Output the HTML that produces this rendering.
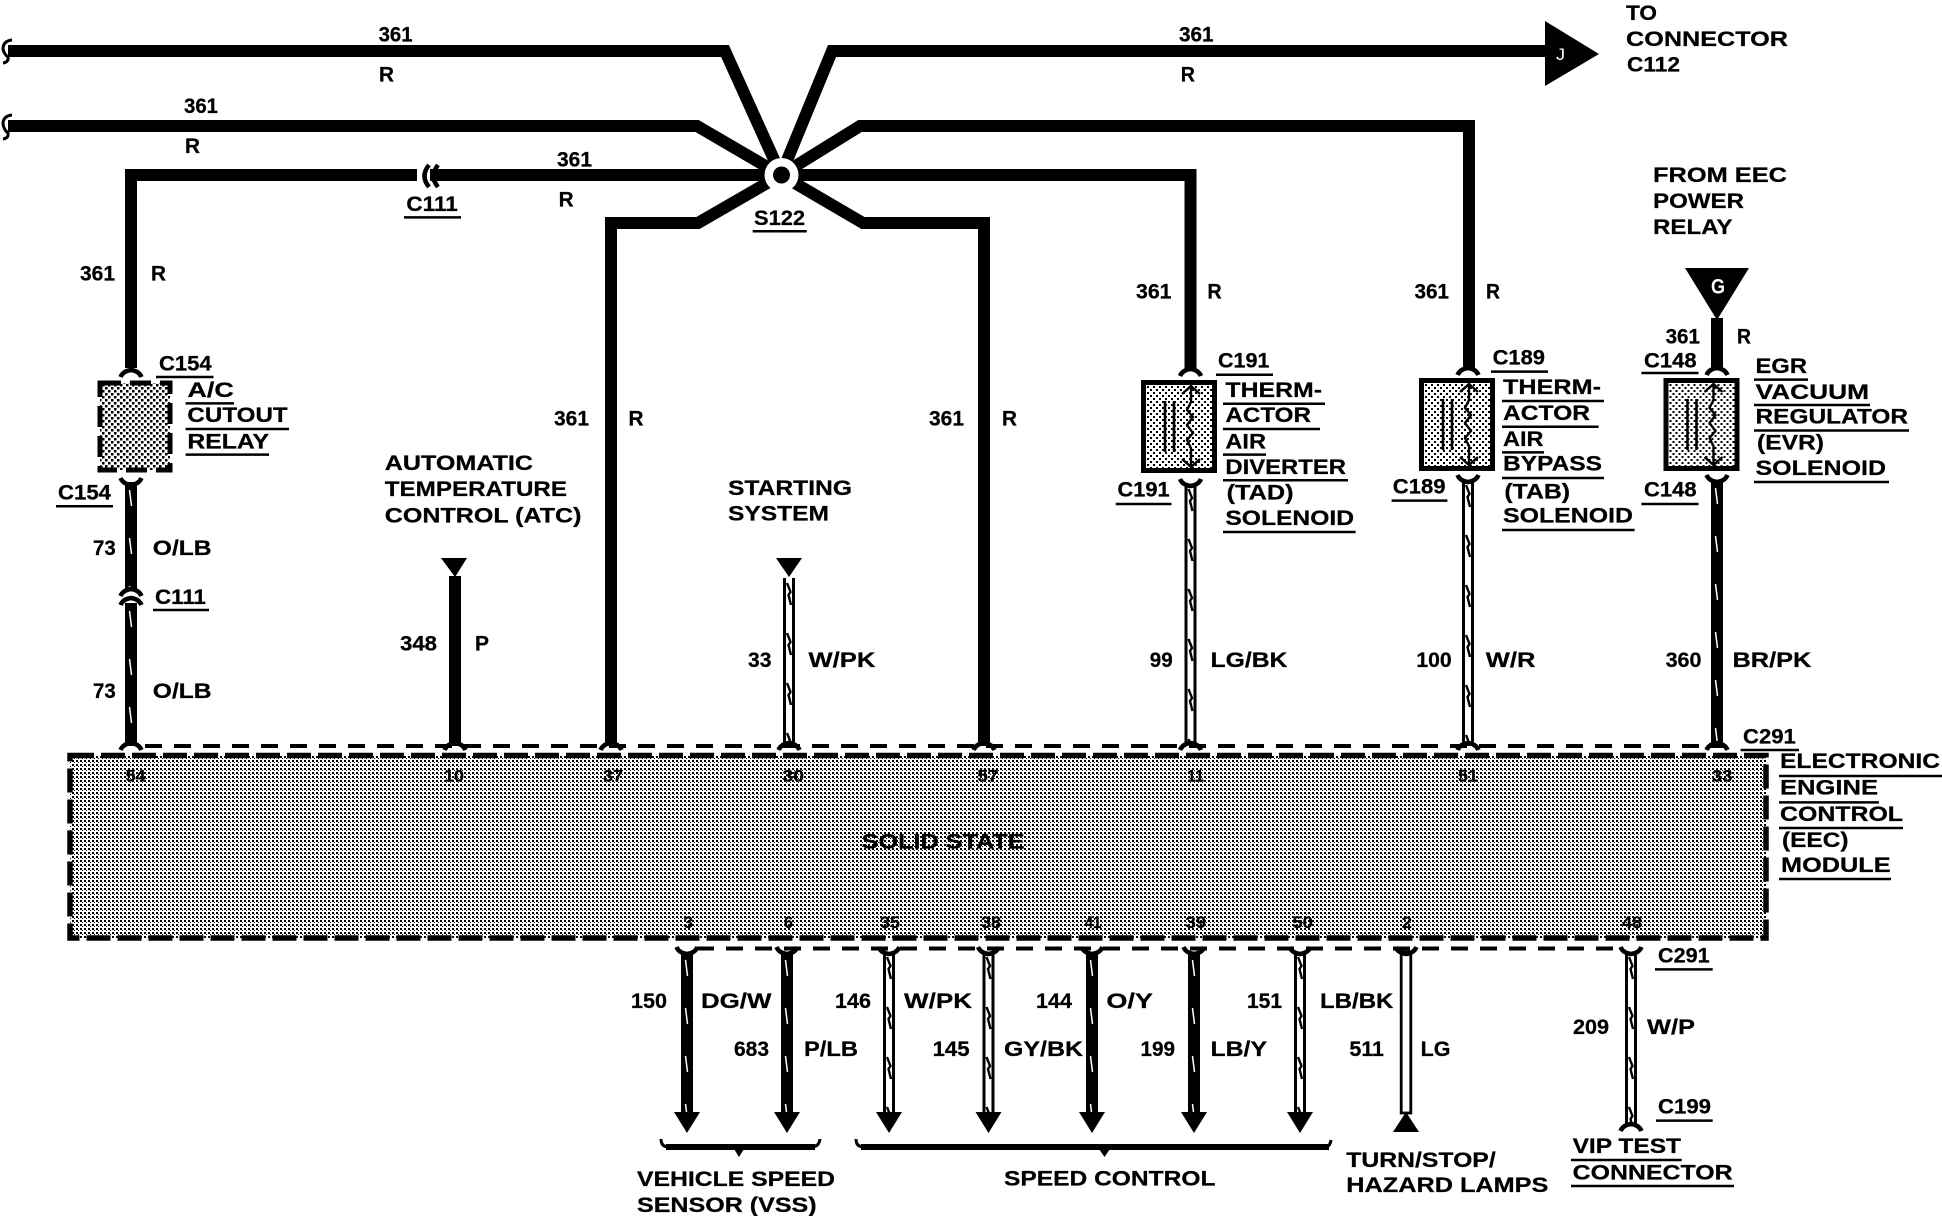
<!DOCTYPE html>
<html><head><meta charset="utf-8"><style>
html,body{margin:0;padding:0;background:#fff}
svg{display:block}
text{font-family:"Liberation Sans",sans-serif;font-weight:bold;font-size:21px;fill:#000;stroke:#000;stroke-width:.25px}
.p{font-size:17px;fill:#000}
</style></head><body>
<svg xmlns="http://www.w3.org/2000/svg" width="1942" height="1216" viewBox="0 0 1942 1216">
<defs>
<pattern id="st" patternUnits="userSpaceOnUse" width="4" height="4"><rect width="4" height="4" fill="#fff"/><rect width="2" height="2" fill="#000" shape-rendering="crispEdges"/><rect x="2" y="2" width="1" height="1" fill="#000" shape-rendering="crispEdges"/></pattern>
<pattern id="st2" patternUnits="userSpaceOnUse" width="6" height="6"><rect width="6" height="6" fill="#fff"/><rect width="2" height="2" fill="#000"/><rect x="3" y="3" width="2" height="2" fill="#000"/></pattern>
<pattern id="st3" patternUnits="userSpaceOnUse" width="6" height="6"><rect width="6" height="6" fill="#fff"/><rect width="2.5" height="2.5" fill="#000"/><rect x="3" y="3" width="2.5" height="2.5" fill="#000"/></pattern>
<pattern id="pw" patternUnits="userSpaceOnUse" width="12" height="50"><rect width="12" height="50" fill="#fff"/><rect width="3" height="50" fill="#000"/><rect x="9" width="3" height="50" fill="#000"/><path d="M4 5L7.5 14L5.5 17L8 27" stroke="#000" stroke-width="2.4" fill="none"/></pattern>
<pattern id="pd" patternUnits="userSpaceOnUse" width="12" height="48"><rect width="12" height="48" fill="#000"/><path d="M4.5 8L6.5 24" stroke="#fff" stroke-width="1.5" fill="none"/></pattern>
<path id="cap" d="M-10.5 0Q-8 -6 0 -7Q8 -6 10.5 0" fill="none" stroke="#000" stroke-width="4.5"/>
<path id="capf" d="M-10.5 0Q-8 6 0 7Q8 6 10.5 0" fill="none" stroke="#000" stroke-width="4.5"/>
<g id="sol">
<rect x="2.5" y="2.5" width="71" height="88" fill="url(#st2)" stroke="#000" stroke-width="5"/>
<path d="M24 21V72M33 21V72" stroke="#000" stroke-width="2.6" fill="none"/>
<path d="M50 6V22L46 30L52 37L46 45L52 53L46 60L50 68V87M41 14L50 6L59 14M41 79L50 87L59 79" stroke="#000" stroke-width="2.4" fill="none"/>
</g>
</defs>
<rect width="1942" height="1216" fill="#fff"/>

<!-- harness -->
<g fill="none" stroke="#000" stroke-width="12" stroke-linejoin="miter">
<path d="M8 51H725L781 175"/>
<path d="M8 126H697L781 175"/>
<path d="M131 368V175H781"/>
<path d="M611 746V223H698L781 175"/>
<path d="M781 175L832 51H1550"/>
<path d="M781 175L860 126H1469V370"/>
<path d="M781 175H1190.5V370"/>
<path d="M781 175L863 223H984V746"/>
<path d="M455 576V746"/>
<path d="M1717 318V370"/>
</g>
<circle cx="781.5" cy="175" r="17" fill="#fff"/><circle cx="781.5" cy="175" r="8.5" fill="#000"/>
<path d="M12 40Q3 41 3 49Q4 54 8 57Q9 62 3 63" fill="none" stroke="#000" stroke-width="3"/>
<path d="M12 115Q3 116 3 124Q4 130 8 133Q9 138 3 139" fill="none" stroke="#000" stroke-width="3"/>
<polygon points="1545,21 1599,54 1545,86" fill="#000"/>
<text x="1556" y="60" textLength="9" lengthAdjust="spacingAndGlyphs" style="fill:#fff;stroke:none;font-size:17px;font-weight:normal">J</text>
<polygon points="1685,268 1749,268 1717,320" fill="#000"/>
<text x="1711" y="293.5" textLength="14" lengthAdjust="spacingAndGlyphs" style="fill:#fff;stroke:none">G</text>
<polygon points="441,558 467,558 455,577" fill="#000"/>
<polygon points="776,558 802,558 789,577" fill="#000"/>

<!-- C111 inline -->
<rect x="417" y="168" width="13" height="14" fill="#fff"/>
<path d="M429 165Q420 176 429 187M438 165Q429 176 438 187" stroke="#000" stroke-width="4.5" fill="none"/>
<path d="M436 175H446" stroke="#000" stroke-width="12"/>

<!-- striped wires -->
<g transform="translate(125,482)"><rect width="12" height="108" fill="url(#pd)"/></g>
<g transform="translate(125,603)"><rect width="12" height="143" fill="url(#pd)"/></g>
<g transform="translate(783,578)"><rect width="12" height="168" fill="url(#pw)"/></g>
<g transform="translate(1184.5,484)"><rect width="12" height="262" fill="url(#pw)"/></g>
<g transform="translate(1462,480)"><rect width="12" height="266" fill="url(#pw)"/></g>
<g transform="translate(1711,480)"><rect width="12" height="266" fill="url(#pd)"/></g>
<g transform="translate(681,952)"><rect width="12" height="162" fill="url(#pd)"/></g>
<g transform="translate(781,952)"><rect width="12" height="162" fill="url(#pd)"/></g>
<g transform="translate(883,952)"><rect width="12" height="162" fill="url(#pw)"/></g>
<g transform="translate(982.5,952)"><rect width="12" height="162" fill="url(#pw)"/></g>
<g transform="translate(1086,952)"><rect width="12" height="162" fill="url(#pd)"/></g>
<g transform="translate(1188,952)"><rect width="12" height="162" fill="url(#pd)"/></g>
<g transform="translate(1294,952)"><rect width="12" height="162" fill="url(#pw)"/></g>
<rect x="1401.2" y="952" width="9.6" height="161" fill="#fff" stroke="#000" stroke-width="2.8"/>
<g transform="translate(1625,952)"><rect width="12" height="172" fill="url(#pw)"/></g>

<!-- arrowheads -->
<g fill="#000">
<polygon points="674,1112 700,1112 687,1133"/>
<polygon points="774,1112 800,1112 787,1133"/>
<polygon points="876,1112 902,1112 889,1133"/>
<polygon points="975.5,1112 1001.5,1112 988.5,1133"/>
<polygon points="1079,1112 1105,1112 1092,1133"/>
<polygon points="1181,1112 1207,1112 1194,1133"/>
<polygon points="1287,1112 1313,1112 1300,1133"/>
<polygon points="1406,1112 1393,1132 1419,1132"/>
</g>

<!-- braces -->
<path d="M661 1139Q661 1147 669 1147H811Q819 1147 820 1139" fill="none" stroke="#000" stroke-width="3"/>
<path d="M666 1147H815" stroke="#000" stroke-width="6"/>
<polygon points="734,1149 744,1149 739,1157" fill="#000"/>
<path d="M856 1139Q856 1147 864 1147H1325Q1330 1147 1331 1140" fill="none" stroke="#000" stroke-width="3"/>
<path d="M861 1147H1329" stroke="#000" stroke-width="6"/>
<polygon points="1099,1149 1110,1149 1104.5,1157" fill="#000"/>

<!-- connector dashed lines -->
<path d="M145 746H1725" stroke="#000" stroke-width="4" stroke-dasharray="17 12" fill="none"/>
<path d="M697 948.5H1625" stroke="#000" stroke-width="4" stroke-dasharray="17 12" fill="none"/>

<!-- module -->
<rect x="70" y="755.5" width="1696" height="182.5" fill="url(#st)"/>
<rect x="70" y="755.5" width="1696" height="182.5" fill="none" stroke="#000" stroke-width="5.5" stroke-dasharray="24 7"/>

<!-- relay -->
<rect x="100" y="383" width="70" height="87" fill="url(#st3)"/>
<rect x="100" y="383" width="70" height="87" fill="none" stroke="#000" stroke-width="5" stroke-dasharray="21 9"/>

<!-- solenoids -->
<use href="#sol" x="1141" y="380"/>
<use href="#sol" x="1419" y="378"/>
<use href="#sol" x="1663.5" y="378"/>

<!-- caps -->
<g>
<use href="#cap" x="131" y="377"/><use href="#cap" x="1190.5" y="376"/><use href="#cap" x="1468" y="375"/><use href="#cap" x="1717" y="375"/>
<use href="#capf" x="131" y="478"/><use href="#capf" x="1190.5" y="479"/><use href="#capf" x="1468" y="475"/><use href="#capf" x="1717" y="475"/>
<use href="#cap" x="131" y="596"/><use href="#cap" x="131" y="605"/>
<use href="#cap" x="131" y="750"/><use href="#cap" x="455" y="750"/><use href="#cap" x="611" y="750"/><use href="#cap" x="789" y="750"/><use href="#cap" x="984" y="750"/><use href="#cap" x="1190.5" y="750"/><use href="#cap" x="1468" y="750"/><use href="#cap" x="1717" y="750"/>
<use href="#capf" x="687" y="947"/><use href="#capf" x="787" y="947"/><use href="#capf" x="889" y="947"/><use href="#capf" x="988.5" y="947"/><use href="#capf" x="1092" y="947"/><use href="#capf" x="1194" y="947"/><use href="#capf" x="1300" y="947"/><use href="#capf" x="1406" y="947"/><use href="#capf" x="1631" y="947"/>
<use href="#cap" x="1631" y="1131"/>
</g>

<!-- underlines -->
<path fill="none" stroke="#000" stroke-width="2.5" d="M404 217.4H461M752.7 231.3H806.7M156 377H213.5M185.6 403.4H234M185.6 429H289M185.6 454.6H269M56 506.3H113M153 610H209M1655 969.4H1712.7M1656 1120.6H1712.7M1571 1160H1681.7M1571 1186H1734M1740.6 750H1799M1779 776H1942M1779 802.4H1879M1779 828H1903M1779 879H1891M1216 374.7H1273M1491 371.6H1548M1641.4 373H1698.5M1754 379.6H1808M1754 405H1870M1754 430.5H1909M1754 482H1889M1223 403.7H1325M1223 429H1320M1223 454.6H1266M1223 480.3H1348M1223 532H1355.6M1502 401H1604M1502 426.7H1598.6M1502 452.4H1544M1502 478H1604M1502 530H1634.6M1115.7 504H1171.5M1391.6 500.6H1447.4M1641.4 504H1698.5"/>

<!-- labels -->
<text x="378.6" y="41.3" textLength="34" lengthAdjust="spacingAndGlyphs">361</text>
<text x="379" y="81.5" textLength="15" lengthAdjust="spacingAndGlyphs">R</text>
<text x="184" y="113" textLength="34" lengthAdjust="spacingAndGlyphs">361</text>
<text x="185" y="153" textLength="15" lengthAdjust="spacingAndGlyphs">R</text>
<text x="557" y="166.5" textLength="35" lengthAdjust="spacingAndGlyphs">361</text>
<text x="558.6" y="206.7" textLength="15" lengthAdjust="spacingAndGlyphs">R</text>
<text x="406.4" y="211" textLength="51.4" lengthAdjust="spacingAndGlyphs">C111</text>
<text x="754" y="225" textLength="51" lengthAdjust="spacingAndGlyphs">S122</text>
<text x="80" y="280.5" textLength="35" lengthAdjust="spacingAndGlyphs">361</text>
<text x="151" y="280.5" textLength="15" lengthAdjust="spacingAndGlyphs">R</text>
<text x="159" y="370.5" textLength="52.6" lengthAdjust="spacingAndGlyphs">C154</text>
<text x="187.4" y="397" textLength="46.4" lengthAdjust="spacingAndGlyphs">A/C</text>
<text x="187.4" y="422" textLength="100.3" lengthAdjust="spacingAndGlyphs">CUTOUT</text>
<text x="187.4" y="448.5" textLength="81.6" lengthAdjust="spacingAndGlyphs">RELAY</text>
<text x="58" y="499.4" textLength="53" lengthAdjust="spacingAndGlyphs">C154</text>
<text x="554" y="425.6" textLength="35" lengthAdjust="spacingAndGlyphs">361</text>
<text x="628.5" y="425.6" textLength="15" lengthAdjust="spacingAndGlyphs">R</text>
<text x="929" y="425.6" textLength="35" lengthAdjust="spacingAndGlyphs">361</text>
<text x="1002" y="425.6" textLength="15" lengthAdjust="spacingAndGlyphs">R</text>
<text x="384.8" y="470" textLength="148.2" lengthAdjust="spacingAndGlyphs">AUTOMATIC</text>
<text x="384.8" y="496" textLength="182.2" lengthAdjust="spacingAndGlyphs">TEMPERATURE</text>
<text x="384.8" y="522.4" textLength="196.7" lengthAdjust="spacingAndGlyphs">CONTROL (ATC)</text>
<text x="728" y="494.8" textLength="124" lengthAdjust="spacingAndGlyphs">STARTING</text>
<text x="728" y="520.5" textLength="101" lengthAdjust="spacingAndGlyphs">SYSTEM</text>
<text x="93" y="555" textLength="22.7" lengthAdjust="spacingAndGlyphs">73</text>
<text x="152.8" y="555" textLength="58.8" lengthAdjust="spacingAndGlyphs">O/LB</text>
<text x="155" y="604" textLength="51" lengthAdjust="spacingAndGlyphs">C111</text>
<text x="93" y="698" textLength="22.7" lengthAdjust="spacingAndGlyphs">73</text>
<text x="152.8" y="698" textLength="58.8" lengthAdjust="spacingAndGlyphs">O/LB</text>
<text x="400" y="650.3" textLength="37" lengthAdjust="spacingAndGlyphs">348</text>
<text x="475" y="650.3" textLength="14" lengthAdjust="spacingAndGlyphs">P</text>
<text x="748" y="666.8" textLength="23.4" lengthAdjust="spacingAndGlyphs">33</text>
<text x="808.5" y="666.8" textLength="66.8" lengthAdjust="spacingAndGlyphs">W/PK</text>
<text x="1149.8" y="666.8" textLength="22.9" lengthAdjust="spacingAndGlyphs">99</text>
<text x="1210.5" y="666.8" textLength="76.9" lengthAdjust="spacingAndGlyphs">LG/BK</text>
<text x="1416.4" y="666.8" textLength="35.3" lengthAdjust="spacingAndGlyphs">100</text>
<text x="1485.8" y="666.8" textLength="49.6" lengthAdjust="spacingAndGlyphs">W/R</text>
<text x="1665.6" y="666.8" textLength="35.9" lengthAdjust="spacingAndGlyphs">360</text>
<text x="1732.5" y="666.8" textLength="78.8" lengthAdjust="spacingAndGlyphs">BR/PK</text>

<!-- pins -->
<text class="p" x="125.6" y="781.5" textLength="19.8" lengthAdjust="spacingAndGlyphs">54</text>
<text class="p" x="444" y="781.5" textLength="20" lengthAdjust="spacingAndGlyphs">10</text>
<text class="p" x="603" y="781.5" textLength="20" lengthAdjust="spacingAndGlyphs">37</text>
<text class="p" x="782.5" y="781.5" textLength="21.5" lengthAdjust="spacingAndGlyphs">30</text>
<text class="p" x="977.4" y="781.5" textLength="21" lengthAdjust="spacingAndGlyphs">57</text>
<text class="p" x="1187" y="781.5" textLength="17" lengthAdjust="spacingAndGlyphs">11</text>
<text class="p" x="1458" y="781.5" textLength="20" lengthAdjust="spacingAndGlyphs">51</text>
<text class="p" x="1712" y="781.5" textLength="20.5" lengthAdjust="spacingAndGlyphs">33</text>
<text class="p" x="683.5" y="928" textLength="9.5" lengthAdjust="spacingAndGlyphs">3</text>
<text class="p" x="784" y="928" textLength="9" lengthAdjust="spacingAndGlyphs">6</text>
<text class="p" x="880" y="928" textLength="20" lengthAdjust="spacingAndGlyphs">35</text>
<text class="p" x="981" y="928" textLength="20" lengthAdjust="spacingAndGlyphs">38</text>
<text class="p" x="1084.7" y="928" textLength="16.7" lengthAdjust="spacingAndGlyphs">41</text>
<text class="p" x="1185.7" y="928" textLength="20.3" lengthAdjust="spacingAndGlyphs">39</text>
<text class="p" x="1292.4" y="928" textLength="20.6" lengthAdjust="spacingAndGlyphs">50</text>
<text class="p" x="1402" y="928" textLength="10" lengthAdjust="spacingAndGlyphs">2</text>
<text class="p" x="1622" y="928" textLength="20" lengthAdjust="spacingAndGlyphs">48</text>
<text x="861.7" y="848.7" textLength="162.9" lengthAdjust="spacingAndGlyphs">SOLID STATE</text>

<!-- lower wire labels -->
<text x="631" y="1008" textLength="36" lengthAdjust="spacingAndGlyphs">150</text>
<text x="701" y="1008" textLength="70.4" lengthAdjust="spacingAndGlyphs">DG/W</text>
<text x="835" y="1008" textLength="36" lengthAdjust="spacingAndGlyphs">146</text>
<text x="904" y="1008" textLength="68" lengthAdjust="spacingAndGlyphs">W/PK</text>
<text x="734" y="1055.8" textLength="35" lengthAdjust="spacingAndGlyphs">683</text>
<text x="804" y="1055.8" textLength="54" lengthAdjust="spacingAndGlyphs">P/LB</text>
<text x="932.6" y="1055.8" textLength="37" lengthAdjust="spacingAndGlyphs">145</text>
<text x="1036" y="1008" textLength="36" lengthAdjust="spacingAndGlyphs">144</text>
<text x="1106.4" y="1008" textLength="46.6" lengthAdjust="spacingAndGlyphs">O/Y</text>
<text x="1247" y="1008" textLength="35" lengthAdjust="spacingAndGlyphs">151</text>
<text x="1320" y="1008" textLength="73.4" lengthAdjust="spacingAndGlyphs">LB/BK</text>
<text x="1004" y="1055.8" textLength="79" lengthAdjust="spacingAndGlyphs">GY/BK</text>
<text x="1140.5" y="1055.8" textLength="34.5" lengthAdjust="spacingAndGlyphs">199</text>
<text x="1210.5" y="1055.8" textLength="56.5" lengthAdjust="spacingAndGlyphs">LB/Y</text>
<text x="1349.4" y="1055.8" textLength="34.6" lengthAdjust="spacingAndGlyphs">511</text>
<text x="1420.7" y="1055.8" textLength="29.8" lengthAdjust="spacingAndGlyphs">LG</text>
<text x="1573" y="1034" textLength="36" lengthAdjust="spacingAndGlyphs">209</text>
<text x="1647" y="1034" textLength="48" lengthAdjust="spacingAndGlyphs">W/P</text>
<text x="1658" y="1113.6" textLength="53" lengthAdjust="spacingAndGlyphs">C199</text>
<text x="1658" y="962.3" textLength="51.6" lengthAdjust="spacingAndGlyphs">C291</text>
<text x="1572.6" y="1152.8" textLength="108.4" lengthAdjust="spacingAndGlyphs">VIP TEST</text>
<text x="1572.6" y="1179.6" textLength="160" lengthAdjust="spacingAndGlyphs">CONNECTOR</text>
<text x="1346.3" y="1167" textLength="149.4" lengthAdjust="spacingAndGlyphs">TURN/STOP/</text>
<text x="1346.3" y="1192" textLength="202.1" lengthAdjust="spacingAndGlyphs">HAZARD LAMPS</text>
<text x="1004" y="1185.5" textLength="211.5" lengthAdjust="spacingAndGlyphs">SPEED CONTROL</text>
<text x="637" y="1186" textLength="198" lengthAdjust="spacingAndGlyphs">VEHICLE SPEED</text>
<text x="637" y="1211.8" textLength="179.6" lengthAdjust="spacingAndGlyphs">SENSOR (VSS)</text>
<text x="1743" y="743.4" textLength="52.8" lengthAdjust="spacingAndGlyphs">C291</text>
<text x="1780" y="768" textLength="160" lengthAdjust="spacingAndGlyphs">ELECTRONIC</text>
<text x="1780" y="794.5" textLength="98" lengthAdjust="spacingAndGlyphs">ENGINE</text>
<text x="1780" y="820.8" textLength="123" lengthAdjust="spacingAndGlyphs">CONTROL</text>
<text x="1782" y="846.8" textLength="66.5" lengthAdjust="spacingAndGlyphs">(EEC)</text>
<text x="1781" y="872" textLength="109.6" lengthAdjust="spacingAndGlyphs">MODULE</text>

<!-- top right -->
<text x="1179" y="41.3" textLength="34.6" lengthAdjust="spacingAndGlyphs">361</text>
<text x="1180.8" y="81.5" textLength="14.2" lengthAdjust="spacingAndGlyphs">R</text>
<text x="1626" y="20" textLength="31" lengthAdjust="spacingAndGlyphs">TO</text>
<text x="1626" y="46" textLength="162" lengthAdjust="spacingAndGlyphs">CONNECTOR</text>
<text x="1627" y="71.6" textLength="53" lengthAdjust="spacingAndGlyphs">C112</text>
<text x="1653" y="181.8" textLength="134" lengthAdjust="spacingAndGlyphs">FROM EEC</text>
<text x="1653" y="207.8" textLength="91" lengthAdjust="spacingAndGlyphs">POWER</text>
<text x="1653" y="234.2" textLength="79.5" lengthAdjust="spacingAndGlyphs">RELAY</text>
<text x="1136" y="298.5" textLength="35.5" lengthAdjust="spacingAndGlyphs">361</text>
<text x="1207.4" y="298.5" textLength="14.3" lengthAdjust="spacingAndGlyphs">R</text>
<text x="1414.5" y="298.5" textLength="34.5" lengthAdjust="spacingAndGlyphs">361</text>
<text x="1486" y="298.5" textLength="14" lengthAdjust="spacingAndGlyphs">R</text>
<text x="1665.6" y="343.3" textLength="34.4" lengthAdjust="spacingAndGlyphs">361</text>
<text x="1737" y="343.3" textLength="14" lengthAdjust="spacingAndGlyphs">R</text>
<text x="1218" y="367.4" textLength="51.4" lengthAdjust="spacingAndGlyphs">C191</text>
<text x="1492.6" y="364.3" textLength="52.4" lengthAdjust="spacingAndGlyphs">C189</text>
<text x="1644" y="367.4" textLength="52.6" lengthAdjust="spacingAndGlyphs">C148</text>
<text x="1755.5" y="373" textLength="51.5" lengthAdjust="spacingAndGlyphs">EGR</text>
<text x="1755.5" y="398.8" textLength="113.5" lengthAdjust="spacingAndGlyphs">VACUUM</text>
<text x="1755.5" y="423.6" textLength="152.5" lengthAdjust="spacingAndGlyphs">REGULATOR</text>
<text x="1757" y="449.7" textLength="67" lengthAdjust="spacingAndGlyphs">(EVR)</text>
<text x="1755.5" y="475" textLength="130.5" lengthAdjust="spacingAndGlyphs">SOLENOID</text>
<text x="1225.4" y="397" textLength="96.6" lengthAdjust="spacingAndGlyphs">THERM-</text>
<text x="1225.4" y="422" textLength="85.6" lengthAdjust="spacingAndGlyphs">ACTOR</text>
<text x="1225.4" y="448.5" textLength="40.6" lengthAdjust="spacingAndGlyphs">AIR</text>
<text x="1225.4" y="473.8" textLength="120.6" lengthAdjust="spacingAndGlyphs">DIVERTER</text>
<text x="1226.7" y="499.4" textLength="66.9" lengthAdjust="spacingAndGlyphs">(TAD)</text>
<text x="1225.4" y="525" textLength="128.6" lengthAdjust="spacingAndGlyphs">SOLENOID</text>
<text x="1117.5" y="496.4" textLength="52.1" lengthAdjust="spacingAndGlyphs">C191</text>
<text x="1503" y="394" textLength="98" lengthAdjust="spacingAndGlyphs">THERM-</text>
<text x="1503" y="419.8" textLength="87" lengthAdjust="spacingAndGlyphs">ACTOR</text>
<text x="1503" y="445.8" textLength="40.5" lengthAdjust="spacingAndGlyphs">AIR</text>
<text x="1503" y="470.7" textLength="99" lengthAdjust="spacingAndGlyphs">BYPASS</text>
<text x="1504.4" y="498.7" textLength="65.6" lengthAdjust="spacingAndGlyphs">(TAB)</text>
<text x="1503" y="522.4" textLength="130" lengthAdjust="spacingAndGlyphs">SOLENOID</text>
<text x="1392.8" y="493.7" textLength="52.7" lengthAdjust="spacingAndGlyphs">C189</text>
<text x="1644" y="496.4" textLength="52.6" lengthAdjust="spacingAndGlyphs">C148</text>
</svg>
</body></html>
